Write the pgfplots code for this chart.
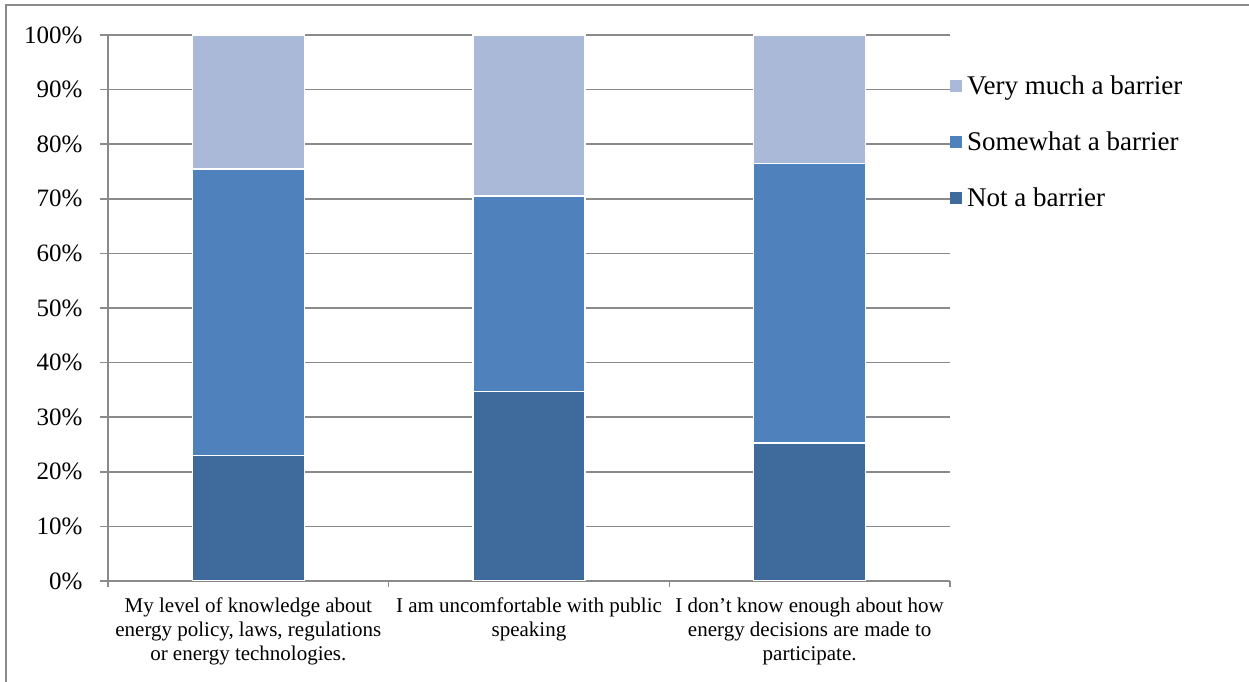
\documentclass[border=0pt]{standalone}
\usepackage{fontspec}
\setmainfont{Liberation Serif}
\usepackage{pgfplots}
\pgfplotsset{compat=1.18}
\definecolor{cnot}{HTML}{3F6A9C}
\definecolor{csome}{HTML}{4F81BD}
\definecolor{cvery}{HTML}{AAB9D7}
\definecolor{cgrid}{HTML}{8A8A8A}
\begin{document}
\begin{tikzpicture}[x=1pt,y=1pt]
\useasboundingbox (0,0) rectangle (1249,682);
\draw[cgrid, line width=1.5pt] (6,0) -- (6,677) -- (1249,677);
\begin{axis}[
  at={(108pt,101pt)}, anchor=south west,
  scale only axis, width=842pt, height=546pt,
  xmin=-0.5, xmax=2.5, ymin=0, ymax=100,
  ybar stacked, bar width=112pt,
  axis lines*=left,
  axis line style={cgrid, line width=1.5pt},
  ymajorgrids, grid style={cgrid, line width=1.5pt},
  ytick={0,10,...,100},
  yticklabel={\pgfmathprintnumber{\tick}\%},
  /pgf/number format/assume math mode=true,
  xtick={0,1,2},
  xticklabels={{My level of knowledge about\\energy policy, laws, regulations\\or energy technologies.},{I am uncomfortable with public\\speaking},{I don’t know enough about how\\energy decisions are made to\\participate.}},
  minor xtick={-0.5,0.5,1.5,2.5},
  tick align=outside,
  major tick length=8pt, minor tick length=6pt,
  tick style={cgrid, line width=1.5pt},
  major x tick style={draw=none},
  xticklabel style={align=center, font=\fontsize{21}{24}\selectfont, yshift=-5pt},
  yticklabel style={font=\fontsize{25}{28}\selectfont, xshift=-14pt},
  legend style={at={(1.0,0.93)}, anchor=north west, draw=none, fill=none,
    font=\fontsize{27}{30}\selectfont, row sep=32pt, inner sep=0pt,
    nodes={inner xsep=5pt}},
  legend cell align=left,
  reverse legend,
  legend image code/.code={\fill[#1, draw=none] (0pt,-6pt) rectangle (12pt,6pt);},
]
\addplot[fill=cnot, draw=white, line width=1.5pt] coordinates {(0,23.0) (1,34.7) (2,25.3)};
\addplot[fill=csome, draw=white, line width=1.5pt] coordinates {(0,52.5) (1,35.8) (2,51.2)};
\addplot[fill=cvery, draw=white, line width=1.5pt] coordinates {(0,24.5) (1,29.5) (2,23.5)};
\legend{Not a barrier, Somewhat a barrier, Very much a barrier}
\end{axis}
\end{tikzpicture}
\end{document}
